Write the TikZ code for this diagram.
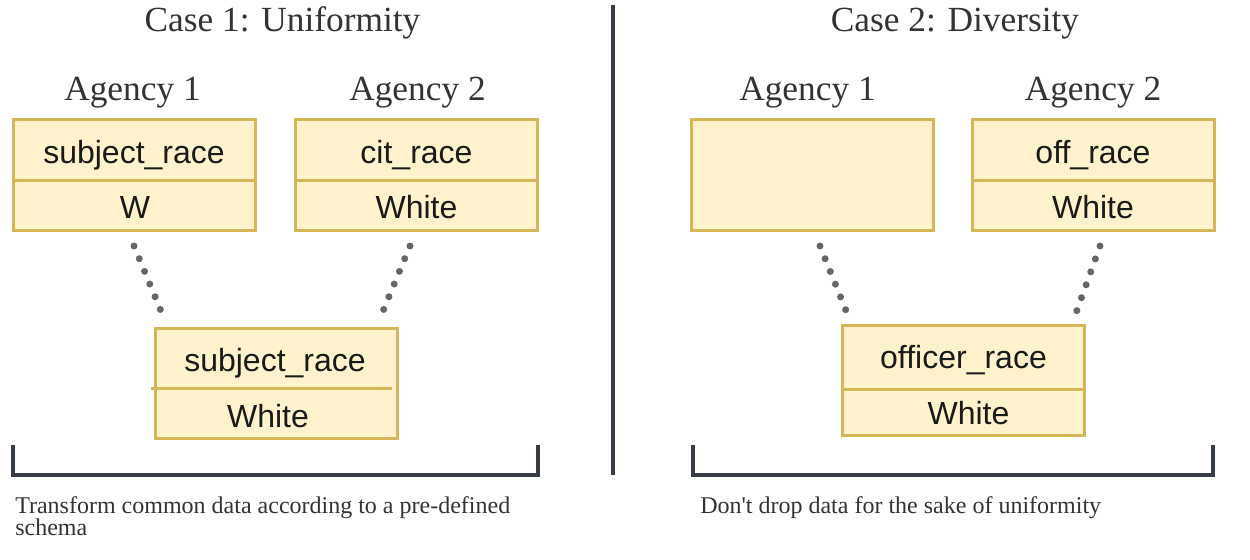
\documentclass[tikz,border=0pt]{standalone}
\usepackage{fontspec}
\setmainfont{Liberation Serif}
\newfontfamily\boxfont{Liberation Sans}
\definecolor{boxfill}{HTML}{FFF2CC}
\definecolor{boxdraw}{HTML}{D6B656}
\definecolor{dotgray}{HTML}{666666}
\definecolor{bracketc}{HTML}{353C46}
\definecolor{serifc}{HTML}{333333}
\definecolor{sansc}{HTML}{1A1A1A}
\begin{document}
\begin{tikzpicture}[x=0.75pt,y=-0.75pt,
  tbox/.style={draw=boxdraw, fill=boxfill, line width=2.25pt, minimum width=181.5pt, minimum height=82.5pt, inner sep=0pt},
  divline/.style={draw=boxdraw, line width=2.25pt},
  celltxt/.style={anchor=base, inner sep=0pt, text=sansc, font=\boxfont\fontsize{24}{28}\selectfont},
  title/.style={anchor=base, inner sep=0pt, text=serifc, font=\fontsize{26.5}{31}\selectfont},
  note/.style={anchor=base west, inner sep=0pt, text=serifc, font=\fontsize{18}{22}\selectfont},
  dotline/.style={draw=dotgray, line width=5.25pt, line cap=round, dash pattern=on 0pt off 10.3pt},
  bracket/.style={draw=bracketc, line width=3pt},
  sepline/.style={draw=bracketc, line width=2.5pt}]
\useasboundingbox (0,0) rectangle (1250,560);

% titles
\node[title] (t1) at (282.5,32) {Case 1: Uniformity};
\node[title] (t2) at (955,32) {Case 2: Diversity};
\node[title] (ag11) at (132.5,101) {Agency 1};
\node[title] (ag12) at (417.5,101) {Agency 2};
\node[title] (ag21) at (807.5,101) {Agency 1};
\node[title] (ag22) at (1093,101) {Agency 2};

% case 1 boxes
\node[tbox] (la1) at (134,175) {};
\draw[divline] (13,180.5) -- (255,180.5);
\node[celltxt] (la1h) at (134,163) {subject\_race};
\node[celltxt] (la1v) at (135,218) {W};

\node[tbox] (la2) at (416.5,175) {};
\draw[divline] (296,180.5) -- (537,180.5);
\node[celltxt] (la2h) at (416.5,163) {cit\_race};
\node[celltxt] (la2v) at (416.5,218) {White};

\node[tbox] (lm) at (276,383.5) {};
\draw[divline] (151,388) -- (392,388);
\node[celltxt] (lmh) at (275,371) {subject\_race};
\node[celltxt] (lmv) at (268,427) {White};

% case 2 boxes
\node[tbox] (ra1) at (812.5,175) {};

\node[tbox] (ra2) at (1093,175) {};
\draw[divline] (973,180.5) -- (1213,180.5);
\node[celltxt] (ra2h) at (1093,163) {off\_race};
\node[celltxt] (ra2v) at (1093,218) {White};

\node[tbox] (rm) at (963,380.5) {};
\draw[divline] (842,389) -- (1084,389);
\node[celltxt] (rmh) at (963.5,368) {officer\_race};
\node[celltxt] (rmv) at (968.5,424) {White};

% dotted connectors
\coordinate (c1a) at (134,246); \coordinate (c1b) at (161,311);
\coordinate (c2a) at (410,246); \coordinate (c2b) at (383,311);
\coordinate (c3a) at (820,246); \coordinate (c3b) at (847,313);
\coordinate (c4a) at (1100,246); \coordinate (c4b) at (1076,313);
\draw[dotline] (c1a) -- (c1b);
\draw[dotline] (c2a) -- (c2b);
\draw[dotline] (c3a) -- (c3b);
\draw[dotline] (c4a) -- (c4b);

% brackets and separator
\draw[bracket] (13,445) -- (13,475) -- (538,475) -- (538,445);
\draw[bracket] (693,445) -- (693,475) -- (1213,475) -- (1213,445);
\draw[sepline] (613,5) -- (613,475);

% notes
\node[note] (n1) at (15,513) {Transform common data according to a pre-defined};
\node[note] (n1b) at (15,535) {schema};
\node[note] (n2) at (700,513) {Don\textquotesingle t drop data for the sake of uniformity};
\end{tikzpicture}
\end{document}
